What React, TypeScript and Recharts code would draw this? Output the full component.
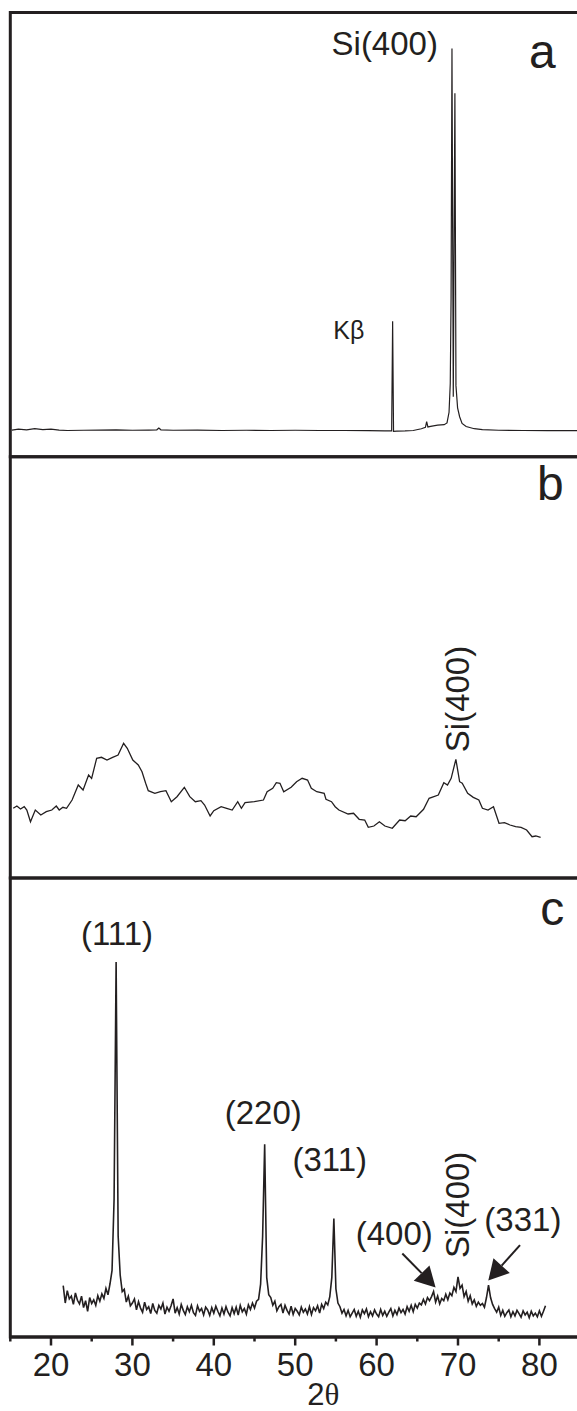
import React from "react"
import {
  LineChart,
  Line,
  XAxis,
  YAxis,
  ReferenceArea,
  ReferenceDot,
  ReferenceLine,
} from "recharts"

const INK = "#231f20"
const FONT = "'Liberation Sans', Arial, Helvetica, sans-serif"

const X_DOMAIN: [number, number] = [15, 85]
const Y_DOMAIN: [number, number] = [0, 100]
const LABEL_TICKS = [20, 30, 40, 50, 60, 70, 80]
const ALL_TICKS = [15, 20, 25, 30, 35, 40, 45, 50, 55, 60, 65, 70, 75, 80, 85]

// (a) bare Si wafer: Kbeta line + Si(400) Ka1/Ka2 doublet
const A_ANGLE = [
  15.2, 16, 17, 18, 19, 20, 21, 22, 24, 26, 28, 30, 32, 33, 33.25, 33.5, 35, 38, 41, 44,
  47, 50, 53, 56, 59, 61, 61.85, 61.97, 62.08, 62.5, 63.5, 64.5, 65.5, 66.0, 66.15, 66.3,
  66.8, 67.5, 68.3, 68.65, 68.9, 69.05, 69.15, 69.26, 69.42, 69.62, 69.75, 69.95, 70.2,
  70.5, 71, 72, 73, 75, 78, 81, 85,
]
const A_INTENSITY = [
  6.0, 6.2, 6.05, 6.3, 6.1, 6.2, 6.0, 5.9, 5.95, 6.0, 6.05, 5.95, 6.0, 6.05, 6.45, 6.05, 5.95, 6.0, 5.9, 5.95,
  5.9, 5.95, 5.9, 5.9, 5.85, 5.8, 5.8, 30.5, 5.7, 5.75, 5.8, 5.9, 6.3, 6.6, 7.9, 6.7,
  6.9, 7.1, 7.2, 7.6, 10.0, 16.5, 35.7, 91.9, 13.5, 81.8, 16.0, 11.0, 9.0,
  7.5, 6.8, 6.3, 6.1, 5.95, 5.9, 5.85, 5.85,
]

// (b) amorphous film
const B_ANGLE = [
  15.36, 15.81, 16.25, 16.71, 17.03, 17.48, 18.07, 18.75, 19.42, 20.1,
  20.65, 21.01, 21.46, 21.91, 22.59, 23.35, 23.94, 24.62, 24.99, 25.61,
  26.2, 26.88, 27.57, 28.24, 28.92, 29.37, 30.05, 30.72, 31.18, 31.63,
  31.95, 32.76, 33.44, 34.12, 34.78, 35.48, 36.38, 37.05, 37.73, 38.42,
  38.87, 39.55, 40.0, 40.9, 41.58, 42.26, 42.94, 43.39, 43.84, 44.98,
  46.1, 46.55, 47.24, 47.68, 48.13, 48.59, 49.5, 50.17, 50.85, 51.52,
  51.98, 52.65, 53.56, 53.78, 54.46, 54.91, 55.37, 56.5, 57.17, 57.86,
  58.54, 58.98, 59.67, 60.34, 61.02, 61.93, 62.83, 63.51, 64.19, 64.86,
  65.77, 66.45, 67.58, 68.26, 68.71, 69.16, 69.74, 70.2, 70.52, 71.19,
  71.88, 72.56, 73.0, 73.69, 74.36, 75.04, 75.71, 76.39, 77.08, 77.75,
  78.43, 79.1, 79.56, 80.15,
]
const B_INTENSITY = [
  16.54, 17.09, 16.38, 16.92, 16.14, 13.36, 16.14, 14.95, 15.74, 16.14,
  17.09, 16.14, 16.78, 16.54, 18.51, 22.07, 20.89, 24.45, 23.66, 28.41,
  28.65, 28.01, 28.65, 29.2, 31.97, 30.78, 28.01, 26.82, 25.23, 22.48,
  20.72, 20.1, 20.48, 20.72, 18.11, 19.3, 21.53, 19.3, 18.11, 18.35,
  17.33, 14.72, 15.97, 16.92, 16.54, 16.14, 18.11, 16.54, 17.87, 18.11,
  18.51, 20.48, 21.29, 22.62, 22.48, 20.48, 21.53, 22.86, 23.66, 23.26,
  21.29, 20.48, 20.1, 18.68, 18.11, 16.92, 16.14, 15.19, 15.36, 13.93,
  13.77, 12.03, 12.34, 13.36, 12.34, 11.8, 13.77, 13.6, 14.72, 14.55,
  16.31, 18.92, 19.7, 22.62, 22.07, 23.66, 28.17, 22.86, 22.48, 20.1,
  19.15, 18.51, 16.54, 16.14, 16.92, 12.98, 13.13, 12.58, 12.18, 12.03,
  11.39, 9.8, 9.97, 9.66,
]

// (c) crystallised film, step scan from 21.5 deg, 0.25 deg step
const C_START = 21.5
const C_STEP = 0.25
const C_INTENSITY = [
  11.2, 7.4, 10.1, 8.3, // 21.5
  8.9, 7.1, 9.6, 8.0, // 22.5
  7.2, 8.9, 6.4, 7.9, // 23.5
  5.6, 8.6, 7.3, 8.1, // 24.5
  6.9, 9.0, 7.8, 9.4, // 25.5
  8.4, 10.6, 9.2, 11.6, // 26.5
  14.5, 30.0, 81.7, 22.0, // 27.5
  13.5, 9.9, 10.4, 7.6, // 28.5
  8.9, 6.8, 7.4, 8.3, // 29.5
  5.9, 7.7, 6.3, 5.4, // 30.5
  7.6, 6.0, 6.6, 5.1, // 31.5
  7.3, 5.8, 5.2, 6.9, // 32.5
  6.1, 7.4, 5.0, 6.5, // 33.5
  5.6, 6.8, 8.3, 5.2, // 34.5
  6.4, 5.0, 7.1, 5.8, // 35.5
  4.9, 6.6, 5.5, 6.9, // 36.5
  5.3, 4.7, 6.8, 5.6, // 37.5
  6.2, 4.8, 6.5, 5.9, // 38.5
  4.7, 6.4, 5.2, 6.7, // 39.5
  5.6, 4.6, 6.3, 5.0, // 40.5
  6.6, 5.4, 4.6, 6.4, // 41.5
  5.1, 6.5, 4.8, 6.9, // 42.5
  5.5, 6.2, 5.0, 7.0, // 43.5
  6.0, 7.4, 6.3, 7.8, // 44.5
  8.2, 11.5, 22.0, 42.0, // 45.5
  13.0, 9.2, 8.6, 6.9, // 46.5
  7.8, 5.7, 6.6, 7.1, // 47.5
  5.2, 6.9, 5.8, 5.0, // 48.5
  6.7, 4.9, 6.2, 5.6, // 49.5
  4.8, 6.5, 5.4, 6.1, // 50.5
  5.0, 6.6, 4.9, 6.4, // 51.5
  5.7, 6.8, 5.2, 7.1, // 52.5
  6.2, 7.6, 7.0, 8.8, // 53.5
  13.0, 25.8, 10.5, 7.4, // 54.5
  6.6, 5.2, 6.0, 4.6, // 55.5
  5.8, 4.4, 5.2, 6.0, // 56.5
  4.5, 5.6, 4.3, 5.9, // 57.5
  5.1, 6.1, 4.4, 5.5, // 58.5
  4.6, 5.9, 5.0, 4.4, // 59.5
  6.0, 4.7, 5.6, 4.5, // 60.5
  5.4, 6.2, 4.6, 5.8, // 61.5
  4.9, 6.3, 5.3, 6.0, // 62.5
  5.0, 6.6, 5.6, 6.9, // 63.5
  5.5, 7.1, 6.3, 7.4, // 64.5
  7.0, 8.2, 7.2, 8.6, // 65.5
  7.9, 8.8, 9.9, 7.6, // 66.5
  8.9, 7.2, 8.4, 7.9, // 67.5
  9.3, 8.1, 9.6, 9.0, // 68.5
  10.8, 9.9, 13.1, 10.6, // 69.5
  11.3, 8.8, 9.9, 7.8, // 70.5
  9.0, 7.2, 8.1, 6.7, // 71.5
  7.6, 6.9, 7.3, 6.5, // 72.5
  8.6, 11.3, 8.6, 7.1, // 73.5
  6.2, 5.4, 6.5, 4.7, // 74.5
  5.8, 4.5, 5.3, 5.9, // 75.5
  4.4, 5.5, 4.6, 5.8, // 76.5
  5.1, 4.3, 5.7, 4.8, // 77.5
  5.4, 4.2, 5.6, 4.6, // 78.5
  5.2, 4.4, 5.7, 4.5, // 79.5
  5.6, 6.8, // 80.5
]

const toPoints = (xs: number[], ys: number[]) => xs.map((x, i) => ({ x, y: ys[i] }))
const A_DATA = toPoints(A_ANGLE, A_INTENSITY)
const B_DATA = toPoints(B_ANGLE, B_INTENSITY)
const C_DATA = C_INTENSITY.map((y, i) => ({ x: C_START + i * C_STEP, y }))

type Note = { x: number; y: number; text: string; size: number; anchor?: "start" | "middle" | "end"; vertical?: boolean }

const A_NOTES: Note[] = [
  { x: 61.0, y: 90.4, text: "Si(400)", size: 33 },
  { x: 80.36, y: 87.5, text: "a", size: 48 },
  { x: 54.68, y: 26.6, text: "Kβ", size: 25, anchor: "start" },
]
const B_NOTES: Note[] = [
  { x: 81.34, y: 89.7, text: "b", size: 48 },
  { x: 71.3, y: 42.5, text: "Si(400)", size: 33, vertical: true },
]
const C_NOTES: Note[] = [
  { x: 28.11, y: 85.4, text: "(111)", size: 33 },
  { x: 46.08, y: 46.4, text: "(220)", size: 33 },
  { x: 54.24, y: 36.1, text: "(311)", size: 33 },
  { x: 62.17, y: 20.0, text: "(400)", size: 33 },
  { x: 71.4, y: 28.8, text: "Si(400)", size: 33, vertical: true },
  { x: 77.97, y: 23.1, text: "(331)", size: 33 },
  { x: 81.58, y: 89.8, text: "c", size: 48 },
]
// arrows: [from, to] in (2theta, intensity)
const C_ARROWS = [
  [{ x: 63.16, y: 18.2 }, { x: 67.25, y: 10.8 }],
  [{ x: 77.62, y: 20.0 }, { x: 73.72, y: 12.3 }],
]

const LEFT = 10.3
const PLOT_W = 569.8
const CHART_W = LEFT + PLOT_W + 2

function renderNote(n: Note, i: number) {
  return (
    <ReferenceDot
      key={i}
      x={n.x}
      y={n.y}
      r={0}
      ifOverflow="visible"
      shape={(p: any) => (
        <text
          x={p.cx}
          y={p.cy}
          fontSize={n.size}
          fontFamily={FONT}
          fill={INK}
          textAnchor={n.anchor ?? "middle"}
          transform={n.vertical ? `rotate(-90 ${p.cx} ${p.cy})` : undefined}
        >
          {n.text}
        </text>
      )}
    />
  )
}

function Arrow(p: any) {
  const { x1, y1, x2, y2 } = p
  const dx = x2 - x1
  const dy = y2 - y1
  const len = Math.hypot(dx, dy) || 1
  const ux = dx / len
  const uy = dy / len
  const bx = x2 - ux * 20
  const by = y2 - uy * 20
  const w = 11
  return (
    <g>
      <line x1={x1} y1={y1} x2={bx} y2={by} stroke={INK} strokeWidth={2} />
      <polygon
        points={`${x2},${y2} ${bx - uy * w},${by + ux * w} ${bx + uy * w},${by - ux * w}`}
        fill={INK}
      />
    </g>
  )
}

const frameTick = (dir: number) => (p: any) => (
  <line x1={p.x} x2={p.x} y1={p.y} y2={p.y + dir * 4} stroke="#8a8a8a" strokeWidth={1} />
)

function AxisTick(p: any) {
  const v = p.payload.value
  const major = v % 10 === 0
  return (
    <g>
      <line x1={p.x} x2={p.x} y1={p.y} y2={p.y + (major ? 8.5 : 4.5)} stroke={INK} strokeWidth={2.5} />
      {LABEL_TICKS.includes(v) && (
        <text x={p.x} y={p.y + 39} textAnchor="middle" fontSize={33} fill={INK} fontFamily={FONT}>
          {v}
        </text>
      )}
    </g>
  )
}

function AxisTitle(p: any) {
  const vb = p.viewBox
  return (
    <text x={vb.x + vb.width / 2 + 28} y={vb.y + vb.height - 6} textAnchor="middle" fontSize={31} fill={INK} fontFamily={FONT}>
      2<tspan fontFamily="'Liberation Serif', 'DejaVu Serif', serif">θ</tspan>
    </text>
  )
}

const tickAxisProps = {
  type: "number" as const,
  domain: X_DOMAIN,
  ticks: ALL_TICKS,
  interval: 0 as const,
  height: 0,
  axisLine: false,
  tickLine: false,
  tickSize: 0,
  tickMargin: 0,
  allowDataOverflow: true,
}

function Frame() {
  return (
    <ReferenceArea
      x1={15}
      x2={85}
      y1={0}
      y2={100}
      fill="none"
      stroke={INK}
      strokeWidth={3}
      ifOverflow="visible"
    />
  )
}

export default function App() {
  return (
    <div
      style={{
        position: "absolute",
        left: 0,
        top: 0,
        width: 577,
        height: 1411,
        overflow: "hidden",
        background: "#fff",
      }}
    >
      <div style={{ position: "absolute", left: 0, top: 0 }}>
        <LineChart width={CHART_W} height={470} data={A_DATA} margin={{ top: 12.5, bottom: 13.3, left: LEFT, right: 2 }}>
          <XAxis type="number" dataKey="x" domain={X_DOMAIN} allowDataOverflow hide />
          <XAxis xAxisId="top" orientation="top" {...tickAxisProps} tick={frameTick(1)} />
          <XAxis xAxisId="bot" orientation="bottom" {...tickAxisProps} tick={frameTick(-1)} />
          <YAxis domain={Y_DOMAIN} allowDataOverflow hide />
          <Line type="linear" dataKey="y" stroke={INK} strokeWidth={1.2} dot={false} isAnimationActive={false} />
          {Frame()}
          {A_NOTES.map(renderNote)}
        </LineChart>
      </div>

      <div style={{ position: "absolute", left: 0, top: 440 }}>
        <LineChart width={CHART_W} height={450} data={B_DATA} margin={{ top: 16.7, bottom: 12, left: LEFT, right: 2 }}>
          <XAxis type="number" dataKey="x" domain={X_DOMAIN} allowDataOverflow hide />
          <XAxis xAxisId="top" orientation="top" {...tickAxisProps} tick={frameTick(1)} />
          <XAxis xAxisId="bot" orientation="bottom" {...tickAxisProps} tick={frameTick(-1)} />
          <YAxis domain={Y_DOMAIN} allowDataOverflow hide />
          <Line type="linear" dataKey="y" stroke={INK} strokeWidth={1.3} dot={false} isAnimationActive={false} />
          {Frame()}
          {B_NOTES.map(renderNote)}
        </LineChart>
      </div>

      <div style={{ position: "absolute", left: 0, top: 860 }}>
        <LineChart width={CHART_W} height={551} data={C_DATA} margin={{ top: 18, bottom: 0, left: LEFT, right: 2 }}>
          <XAxis
            type="number"
            dataKey="x"
            domain={X_DOMAIN}
            allowDataOverflow
            ticks={ALL_TICKS}
            interval={0}
            height={74}
            axisLine={{ stroke: INK, strokeWidth: 3 }}
            tickLine={false}
            tickSize={0}
            tickMargin={0}
            tick={AxisTick}
            label={{ content: AxisTitle }}
          />
          <XAxis xAxisId="top" orientation="top" {...tickAxisProps} tick={frameTick(1)} />
          <YAxis domain={Y_DOMAIN} allowDataOverflow hide />
          <Line type="linear" dataKey="y" stroke={INK} strokeWidth={1.6} dot={false} isAnimationActive={false} />
          {Frame()}
          {C_NOTES.map(renderNote)}
          {C_ARROWS.map((seg, i) => (
            <ReferenceLine key={i} segment={seg} ifOverflow="visible" shape={Arrow} />
          ))}
        </LineChart>
      </div>
    </div>
  )
}
